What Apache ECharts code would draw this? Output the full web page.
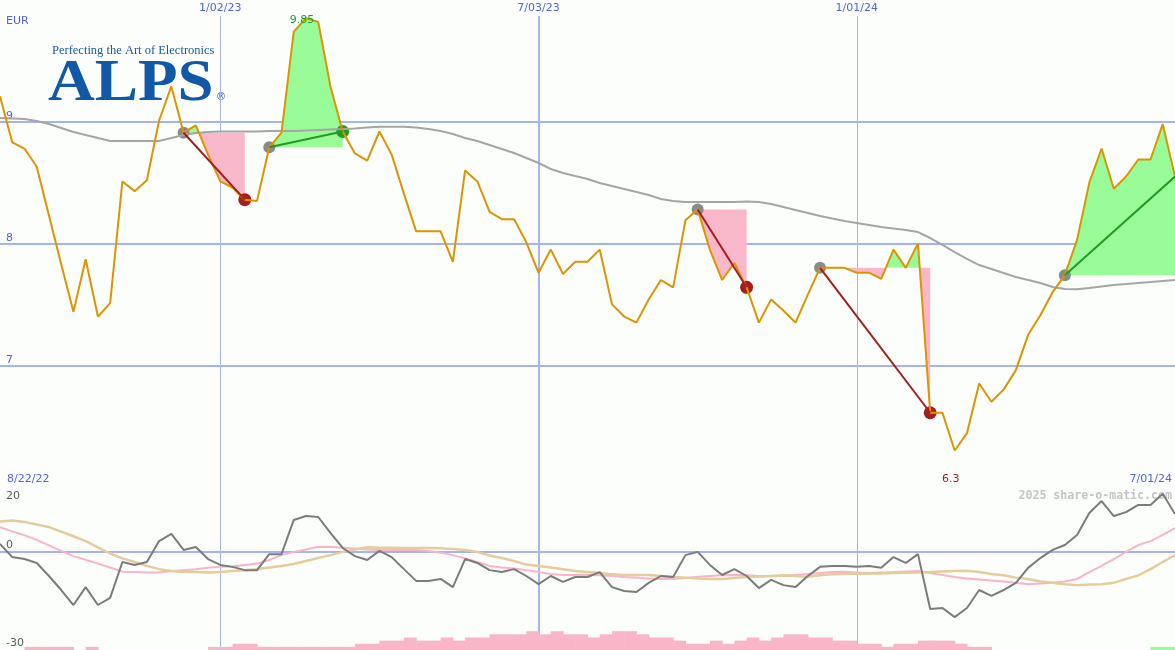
<!DOCTYPE html>
<html><head><meta charset="utf-8">
<script src="https://cdn.jsdelivr.net/npm/echarts@6/dist/echarts.min.js"></script>
<style>html,body{margin:0;padding:0;background:#fcfefc}#c{width:1175px;height:650px}</style>
</head><body><div id="c"></div>
<script>
// ---------------- data ----------------
const startDate = '2022-08-29';           // first weekly close shown
const currency = 'EUR';
const price = [9.21, 8.83, 8.78, 8.63, 8.23, 7.83, 7.44, 7.87, 7.40, 7.51,
  8.51, 8.43, 8.52, 9.01, 9.29, 8.91, 8.97, 8.73, 8.51, 8.46,
  8.36, 8.35, 8.79, 8.91, 9.74, 9.85, 9.82, 9.29, 8.92, 8.74,
  8.68, 8.92, 8.73, 8.41, 8.10, 8.10, 8.10, 7.85, 8.60, 8.51,
  8.26, 8.20, 8.20, 8.01, 7.76, 7.95, 7.75, 7.85, 7.85, 7.95,
  7.50, 7.40, 7.35, 7.54, 7.70, 7.64, 8.19, 8.28, 7.95, 7.70,
  7.84, 7.64, 7.35, 7.54, 7.45, 7.35, 7.58, 7.80, 7.80, 7.80,
  7.76, 7.76, 7.71, 7.95, 7.80, 8.00, 6.61, 6.61, 6.30, 6.44,
  6.85, 6.70, 6.80, 6.96, 7.25, 7.41, 7.60, 7.74, 8.03, 8.50,
  8.78, 8.45, 8.55, 8.69, 8.69, 8.98, 8.55];
const movingAvg = [9.031, 9.027, 9.023, 9.006, 8.982, 8.949, 8.916, 8.891, 8.867, 8.842,
  8.842, 8.842, 8.842, 8.842, 8.867, 8.891, 8.908, 8.916, 8.920, 8.920,
  8.920, 8.920, 8.924, 8.924, 8.924, 8.928, 8.932, 8.936, 8.940, 8.945,
  8.953, 8.959, 8.959, 8.959, 8.953, 8.940, 8.924, 8.899, 8.867, 8.842,
  8.809, 8.776, 8.743, 8.702, 8.661, 8.612, 8.579, 8.554, 8.530, 8.497,
  8.472, 8.448, 8.423, 8.398, 8.366, 8.349, 8.341, 8.341, 8.341, 8.341,
  8.341, 8.345, 8.341, 8.324, 8.300, 8.275, 8.251, 8.226, 8.205, 8.185,
  8.168, 8.152, 8.136, 8.123, 8.111, 8.094, 8.045, 7.988, 7.930, 7.873,
  7.823, 7.791, 7.758, 7.725, 7.700, 7.676, 7.643, 7.626, 7.624, 7.635,
  7.647, 7.659, 7.667, 7.676, 7.684, 7.692, 7.700];
const oscillator = [2.5, -1.5, -2.1, -3.3, -7.3, -11.6, -16.2, -10.7, -16.2, -14.0,
  -3.0, -3.9, -3.0, 3.4, 5.6, 0.7, 1.6, -2.1, -3.9, -4.5,
  -5.5, -5.5, -0.6, -0.6, 9.9, 11.1, 10.8, 5.9, 1.3, -1.2,
  -2.4, 0.4, -1.5, -5.2, -8.8, -8.8, -8.2, -10.7, -2.1, -3.3,
  -5.5, -6.1, -5.2, -7.3, -9.8, -7.3, -9.1, -7.6, -7.6, -6.1,
  -10.7, -11.9, -12.2, -9.4, -7.3, -7.6, -0.9, 0.1, -3.9, -7.0,
  -5.2, -7.3, -11.0, -8.5, -10.1, -10.7, -7.3, -4.5, -4.2, -4.2,
  -4.5, -4.2, -4.8, -1.5, -3.3, -0.6, -17.4, -17.1, -19.9, -17.1,
  -11.6, -13.4, -11.6, -9.4, -4.8, -1.8, 0.7, 2.2, 5.3, 12.0,
  15.7, 11.1, 12.3, 14.5, 14.5, 17.9, 11.7];
const oscSlow = [7.7, 6.4, 5.2, 3.8, 2.1, 0.4, -1.2, -2.3, -3.5, -4.7,
  -6.0, -6.1, -6.2, -6.2, -5.8, -5.5, -5.2, -4.8, -4.5, -4.4,
  -3.9, -3.5, -2.4, -0.9, 0.1, 0.8, 1.7, 1.6, 1.4, 1.1,
  0.8, 0.7, 0.7, 0.7, 0.7, 0.4, -0.2, -0.9, -1.9, -3.0,
  -4.2, -4.7, -5.0, -5.5, -6.1, -6.7, -7.0, -7.0, -7.0, -7.1,
  -7.3, -7.6, -7.8, -8.1, -8.2, -8.2, -7.9, -7.5, -7.3, -7.1,
  -7.0, -7.1, -7.3, -7.3, -7.3, -7.0, -6.7, -6.4, -6.1, -6.0,
  -6.2, -6.4, -6.2, -6.1, -5.9, -5.8, -6.4, -7.0, -7.6, -8.1,
  -8.4, -8.7, -9.0, -9.4, -9.8, -9.6, -9.4, -9.0, -8.2, -6.1,
  -4.2, -2.1, 0.1, 2.2, 3.4, 5.3, 7.4];
const oscSlower = [9.4, 9.7, 9.3, 8.5, 7.7, 6.3, 4.9, 3.4, 1.5, -0.4,
  -1.9, -3.0, -4.2, -5.2, -5.8, -6.1, -6.1, -6.2, -6.1, -5.8,
  -5.5, -5.2, -4.7, -4.2, -3.6, -2.7, -1.8, -0.9, 0.1, 0.8,
  1.5, 1.4, 1.4, 1.3, 1.3, 1.3, 1.2, 1.0, 0.7, 0.1,
  -1.0, -1.8, -2.7, -3.8, -4.2, -4.7, -5.2, -5.8, -6.1, -6.4,
  -6.8, -7.0, -7.0, -7.0, -7.3, -7.6, -7.8, -8.1, -8.2, -8.2,
  -7.9, -7.6, -7.5, -7.3, -7.1, -7.3, -7.5, -7.1, -6.8, -6.7,
  -6.6, -6.5, -6.5, -6.4, -6.3, -6.2, -6.1, -5.9, -5.8, -5.7,
  -6.1, -6.7, -7.1, -7.8, -8.2, -9.0, -9.4, -9.8, -10.1, -9.9,
  -9.8, -9.4, -8.2, -7.1, -5.2, -3.0, -0.9];
// weekly histogram levels (one per week interval)
const histPink = [0,0,1,1,1,1,0,1,0,0,
  0,0,0,0,0,0,0,1,1,2,
  2,1,1,1,1,1,1,1,1,2,
  2,3,3,4,3,3,4,3,4,4,
  5,5,5,6,5,6,5,5,4,5,
  6,6,5,4,4,3,2,2,3,2,
  3,4,3,4,5,5,4,4,3,3,
  2,2,1,2,2,3,3,3,2,1,
  1,0,0,0,0,0,0,0,0,0,
  0,0,0,0,0,0];
const histGreen = [0,0,0,0,0,0,0,0,0,0,
  0,0,0,0,0,0,0,0,0,0,
  0,0,0,0,0,0,0,0,0,0,
  0,0,0,0,0,0,0,0,0,0,
  0,0,0,0,0,0,0,0,0,0,
  0,0,0,0,0,0,0,0,0,0,
  0,0,0,0,0,0,0,0,0,0,
  0,0,0,0,0,0,0,0,0,0,
  0,0,0,0,0,0,0,0,0,0,
  0,0,0,0,1,1];
// trade signals: week index of entry and exit
const signalEntry = [15, 22, 57, 67, 87];
const signalExit  = [20, 28, 61, 76, 96];
// tick labels
const dateTicks = ['2023-01-02', '2023-07-03', '2024-01-01'];
const dateTickLabels = ['1/02/23', '7/03/23', '1/01/24'];
const rangeLabels = ['8/22/22', '7/01/24'];
const priceTicks = [7, 8, 9];
const oscTicks = [20, 0, -30];
const watermark = '2025 share-o-matic.com';
const logoTagline = 'Perfecting the Art of Electronics';
const logoName = 'ALPS';

// ---------------- build ----------------
const DAY = 86400000;
const t0 = Date.parse(startDate + 'T00:00:00Z');
const dates = price.map((_, i) => t0 + i * 7 * DAY);
const tickTimes = dateTicks.map(d => Date.parse(d + 'T00:00:00Z'));
const last = price.length - 1;

const BG = '#fcfefc', GRID = '#a6b3f1', DIVIDER = '#6f7fea', TXT = '#5062e6';
const ORANGE = '#dc9402', MA = '#a5a5a5', PINK = '#f9b7ca', GREEN = '#98fb98';
const RED = '#a51d1d', DKGREEN = '#249a24', DOT = '#8a8a8a';
const FONT = 'DejaVu Sans';

function fillPolygon(e, x, above) {
  const lvl = price[e];
  const pick = v => above ? Math.max(v, lvl) : Math.min(v, lvl);
  const pts = [[dates[e], lvl]];
  for (let k = e; k <= x; k++) {
    pts.push([dates[k], pick(price[k])]);
    if (k < x) {
      const a = price[k] - lvl, b = price[k + 1] - lvl;
      if (a * b < 0) {
        const f = a / (a - b);
        pts.push([dates[k] + f * (dates[k + 1] - dates[k]), lvl]);
      }
    }
  }
  pts.push([dates[x], lvl]);
  return pts;
}

let imax = 0, imin = 0;
price.forEach((v, i) => { if (v > price[imax]) imax = i; if (v < price[imin]) imin = i; });

const signalLines = signalEntry.map((e, k) => {
  const x = signalExit[k];
  const win = price[x] > price[e];
  return {
    type: 'line', xAxisIndex: 0, yAxisIndex: 0, symbol: 'none', silent: true,
    lineStyle: { color: win ? DKGREEN : RED, width: 2 },
    data: [[dates[e], price[e]], [dates[x], price[x]]]
  };
});

function histSeries(levels, color) {
  return {
    type: 'custom', xAxisIndex: 1, yAxisIndex: 2, silent: true,
    data: levels.map((v, i) => [i, v]),
    renderItem(params, api) {
      const i = api.value(0), v = api.value(1);
      if (!(v > 0)) return null;
      const p0 = api.coord([dates[i], 0]);
      const p1 = api.coord([dates[i + 1], v]);
      return { type: 'rect', shape: { x: p0[0], y: p1[1], width: p1[0] - p0[0] + 0.6, height: p0[1] - p1[1] },
               style: { fill: color } };
    }
  };
}

const vLines = tickTimes.map((t, k) => ({ xAxis: t, lineStyle: { width: k === 1 ? 2 : 1 } }));

const option = {
  animation: false,
  backgroundColor: BG,
  grid: [
    { left: 0, right: 0, top: 0, height: 487, outerBoundsMode: 'none', containLabel: false },
    { left: 0, right: 0, top: 487, height: 163, outerBoundsMode: 'none', containLabel: false }
  ],
  xAxis: [
    { gridIndex: 0, type: 'time', min: dates[0], max: dates[last], show: false },
    { gridIndex: 1, type: 'time', min: dates[0], max: dates[last], position: 'top',
      axisLine: { show: true, lineStyle: { color: DIVIDER, width: 2 } },
      axisTick: { show: false }, axisLabel: { show: false }, splitLine: { show: false } }
  ],
  yAxis: [
    { gridIndex: 0, type: 'value', min: 6, max: 10, interval: 1,
      axisLine: { show: false }, axisTick: { show: false },
      axisLabel: { inside: true, margin: 6, verticalAlign: 'bottom', color: TXT, fontSize: 11, fontFamily: FONT,
                   formatter: v => priceTicks.includes(v) ? String(v) : '' },
      splitLine: { show: true, showMinLine: false, showMaxLine: false, lineStyle: { color: GRID, width: 2 } } },
    { gridIndex: 1, type: 'value', min: -30, max: 20, interval: 10,
      axisLine: { show: false }, axisTick: { show: false }, splitLine: { show: false },
      axisLabel: { inside: true, margin: 6, verticalAlign: 'middle', color: '#5c5c5c', fontSize: 11, fontFamily: FONT,
        formatter: v => {
          if (!oscTicks.includes(v)) return '';
          return v === 20 ? '{S| }\n{T|' + v + '}' : '{t|' + v + '}\n{s| }';
        },
        rich: {
          T: { lineHeight: 18, fontSize: 11, fontFamily: FONT, color: '#5c5c5c' }, S: { lineHeight: 18, fontSize: 11 },
          t: { lineHeight: 14, fontSize: 11, fontFamily: FONT, color: '#5c5c5c' }, s: { lineHeight: 14, fontSize: 11 } } } },
    { gridIndex: 1, type: 'value', min: 0, max: 52, show: false }
  ],
  graphic: [
    { type: 'text', x: 6, y: 21, style: { text: currency, fill: TXT, font: '11px "DejaVu Sans"', textAlign: 'left', textVerticalAlign: 'middle', align: 'left', verticalAlign: 'middle' } },
    { type: 'text', x: 7, y: 479, style: { text: rangeLabels[0], fill: TXT, font: '11px "DejaVu Sans"', textAlign: 'left', textVerticalAlign: 'middle', align: 'left', verticalAlign: 'middle' } },
    { type: 'text', x: 1172, y: 479, style: { text: rangeLabels[1], fill: TXT, font: '11px "DejaVu Sans"', textAlign: 'right', textVerticalAlign: 'middle', align: 'right', verticalAlign: 'middle' } },
    { type: 'text', x: 1172, y: 496, style: { text: watermark, fill: '#c4c4c4', font: 'bold 11.6px "DejaVu Sans Mono"', textAlign: 'right', textVerticalAlign: 'middle', align: 'right', verticalAlign: 'middle' } },
    { type: 'text', x: 52, y: 51, style: { text: logoTagline, fill: '#1b5aa8', font: '12.5px "Liberation Serif"', textAlign: 'left', textVerticalAlign: 'middle', align: 'left', verticalAlign: 'middle' } },
    { type: 'text', x: 48, y: 84, scaleX: 1.08, style: { text: logoName, fill: '#1158a7', font: 'bold 60px "Liberation Serif"', textAlign: 'left', textVerticalAlign: 'middle', align: 'left', verticalAlign: 'middle' } },
    { type: 'text', x: 216, y: 97, style: { text: '\u00ae', fill: '#1158a7', font: '10px "DejaVu Sans"', textAlign: 'left', textVerticalAlign: 'middle', align: 'left', verticalAlign: 'middle' } }
  ],
  series: [
    { type: 'custom', xAxisIndex: 0, yAxisIndex: 0, silent: true,
      data: signalEntry.map((e, k) => [e, signalExit[k]]),
      renderItem(params, api) {
        const e = api.value(0), x = api.value(1);
        return { type: 'group', children: [
          { type: 'polygon', shape: { points: fillPolygon(e, x, false).map(p => api.coord(p)) }, style: { fill: PINK } },
          { type: 'polygon', shape: { points: fillPolygon(e, x, true).map(p => api.coord(p)) }, style: { fill: GREEN } }
        ] };
      } },
    { type: 'line', name: 'avg', xAxisIndex: 0, yAxisIndex: 0, symbol: 'none', silent: true,
      lineStyle: { color: MA, width: 2 },
      data: movingAvg.map((v, i) => [dates[i], v]),
      markLine: { silent: true, z: 1, symbol: ['none', 'none'], label: { show: false },
                  lineStyle: { color: GRID, type: 'solid', width: 1 }, data: vLines },
      markPoint: { silent: true, symbol: 'rect', symbolSize: 1, itemStyle: { color: 'rgba(0,0,0,0)' },
        label: { show: true, position: 'inside', offset: [0, 8], formatter: '{b}', color: TXT, fontSize: 11, fontFamily: FONT,
                 backgroundColor: BG, padding: [2, 3, 3, 3] },
        data: tickTimes.map((t, k) => ({ name: dateTickLabels[k], coord: [t, 10] })) } },
    { type: 'line', name: 'price', xAxisIndex: 0, yAxisIndex: 0, symbol: 'none', silent: true,
      lineStyle: { color: ORANGE, width: 2 },
      data: price.map((v, i) => [dates[i], v]),
      markPoint: { silent: true, symbol: 'rect', symbolSize: 1, itemStyle: { color: 'rgba(0,0,0,0)' },
        label: { show: true, position: 'inside', fontSize: 11, fontFamily: FONT, formatter: '{b}' },
        data: [
          { name: String(+price[imax].toFixed(2)), coord: [dates[imax], 10], label: { offset: [-4, 20], color: '#22a022' } },
          { name: String(+price[imin].toFixed(2)), coord: [dates[imin], 6], label: { offset: [-4, -8], color: RED } }
        ] } },
    ...signalLines,
    { type: 'scatter', xAxisIndex: 0, yAxisIndex: 0, symbolSize: 12, silent: true,
      itemStyle: { color: DOT, opacity: 1 },
      data: signalEntry.map(e => [dates[e], price[e]]) },
    { type: 'scatter', xAxisIndex: 0, yAxisIndex: 0, symbolSize: 13, silent: true,
      itemStyle: { opacity: 1 },
      data: signalExit.map((x, k) => x === last ? null : {
        value: [dates[x], price[x]],
        itemStyle: { color: price[x] > price[signalEntry[k]] ? DKGREEN : RED } }).filter(Boolean) },
    histSeries(histPink, '#f9b6c9'),
    histSeries(histGreen, GREEN),
    { type: 'line', xAxisIndex: 1, yAxisIndex: 1, symbol: 'none', silent: true,
      lineStyle: { color: '#f8b4c8', width: 2 }, data: oscSlow.map((v, i) => [dates[i], v]) },
    { type: 'line', xAxisIndex: 1, yAxisIndex: 1, symbol: 'none', silent: true,
      lineStyle: { color: '#e4cc9c', width: 2.5 }, data: oscSlower.map((v, i) => [dates[i], v]) },
    { type: 'line', xAxisIndex: 1, yAxisIndex: 1, symbol: 'none', silent: true,
      lineStyle: { color: '#7b7b7b', width: 2 }, data: oscillator.map((v, i) => [dates[i], v]),
      markLine: { silent: true, z: 1, symbol: ['none', 'none'], label: { show: false },
                  lineStyle: { color: GRID, type: 'solid', width: 1 },
                  data: [...vLines, { yAxis: 0, lineStyle: { width: 2 } }] } }
  ]
};

const chart = echarts.init(document.getElementById('c'));
chart.setOption(option);
</script>
</body></html>
